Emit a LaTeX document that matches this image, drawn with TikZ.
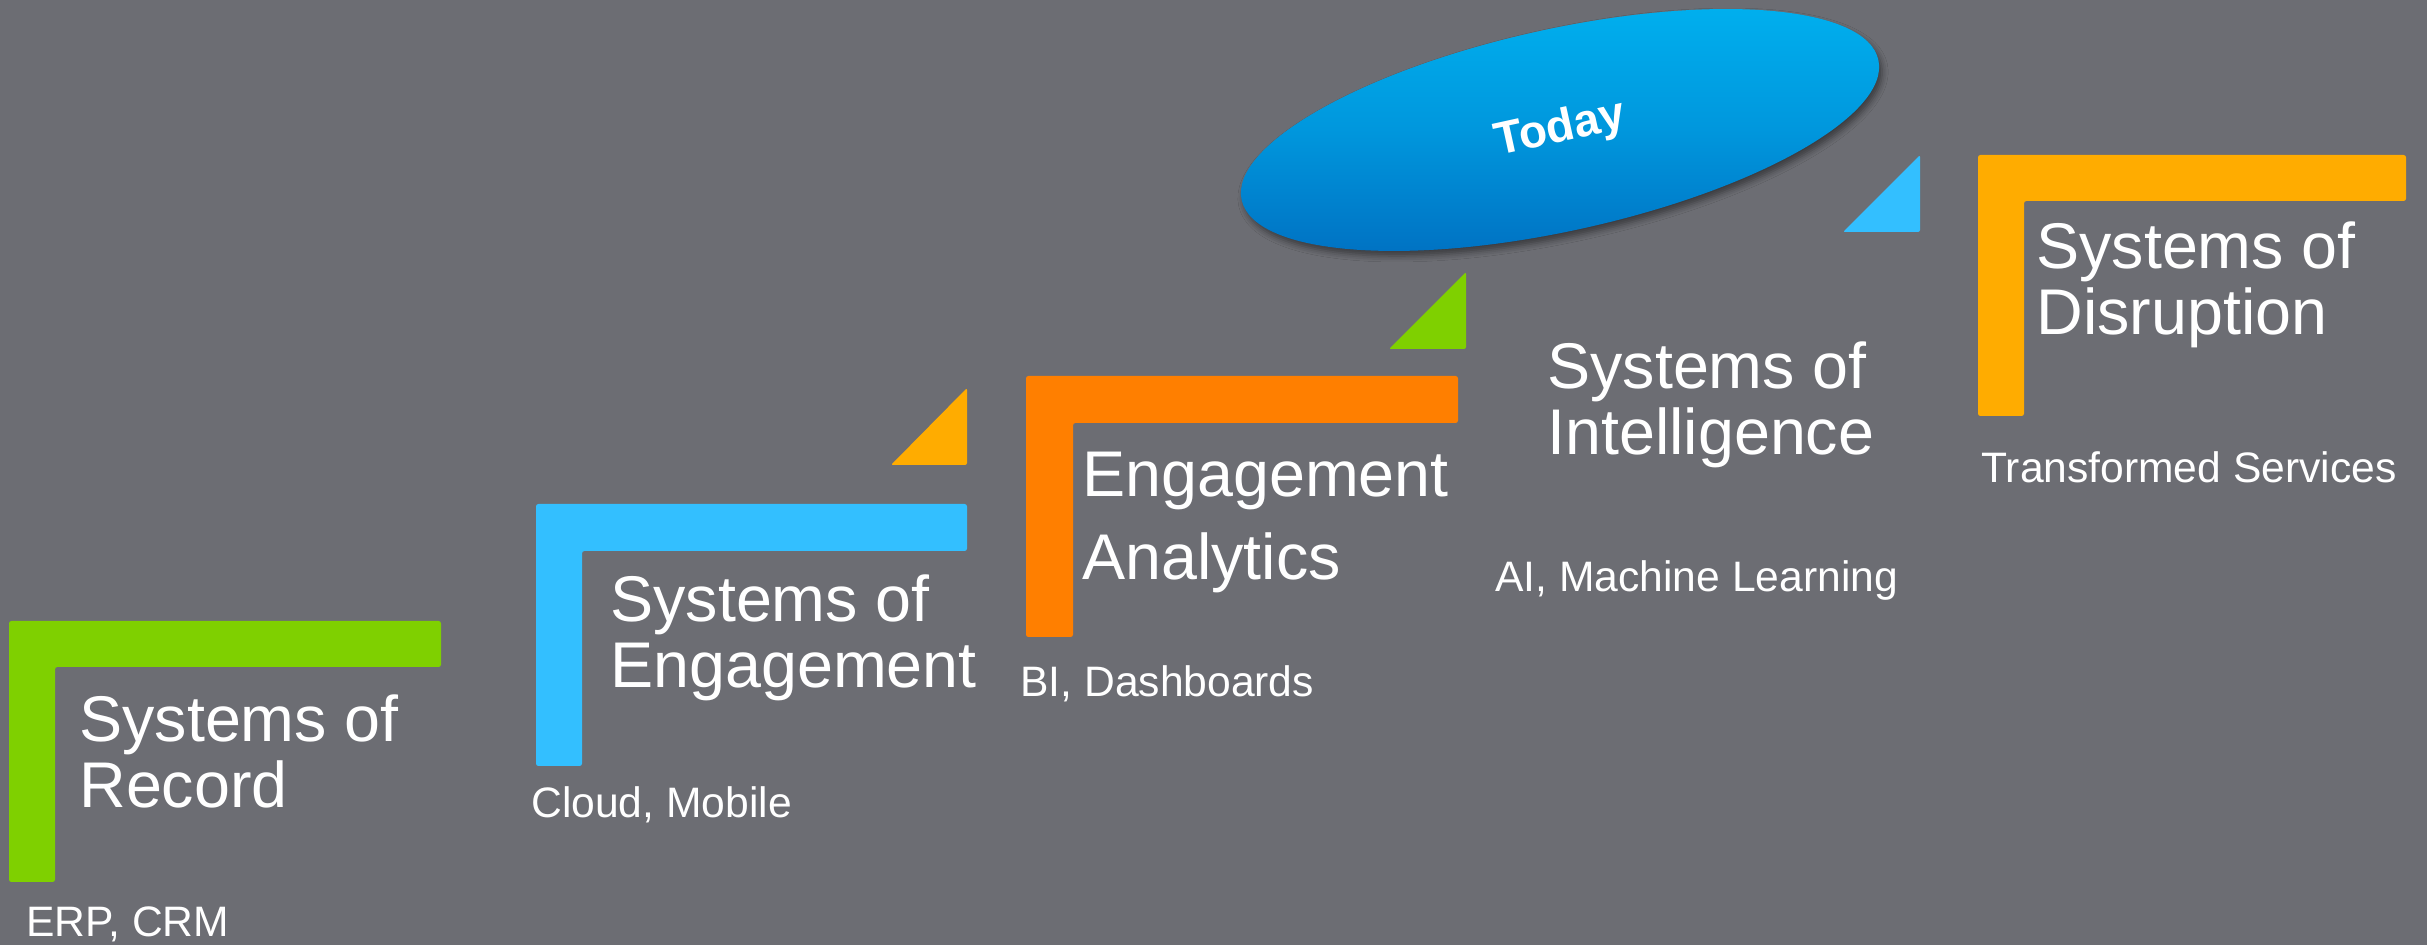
\documentclass[tikz,border=0pt]{standalone}
\usepackage{fontspec}
\setmainfont{Liberation Sans}
\usetikzlibrary{shapes.geometric,shadows.blur}
\definecolor{bgcol}{RGB}{108,109,115}
\definecolor{cgreen}{RGB}{127,208,0}
\definecolor{cblue}{RGB}{51,191,255}
\definecolor{corange}{RGB}{255,127,0}
\definecolor{cgold}{RGB}{255,172,0}
\definecolor{elltop}{RGB}{0,178,240}
\definecolor{ellbot}{RGB}{0,110,192}
\tikzset{
  bigtext/.style={text=white, font=\fontsize{32.3}{33}\selectfont, align=left, inner sep=0pt, anchor=base west},
  subtext/.style={text=white, font=\fontsize{21.3}{22}\selectfont, inner sep=0pt, anchor=base west},
  bracket/.style={rounded corners=1.2pt},
  tri/.style={rounded corners=1pt},
}
\begin{document}
\begin{tikzpicture}[x=0.5pt,y=-0.5pt]
\fill[bgcol] (0,0) rectangle (2427,945);
\useasboundingbox (0,0) rectangle (2427,945);

% brackets
\fill[cgreen,bracket] (9,621) -- (441,621) -- (441,667) -- (55,667) -- (55,882) -- (9,882) -- cycle;
\fill[cblue,bracket] (536,504) -- (967,504) -- (967,551) -- (582,551) -- (582,766) -- (536,766) -- cycle;
\fill[corange,bracket] (1026,376) -- (1458,376) -- (1458,423) -- (1073,423) -- (1073,637) -- (1026,637) -- cycle;
\fill[cgold,bracket] (1978,155) -- (2406,155) -- (2406,201) -- (2024,201) -- (2024,416) -- (1978,416) -- cycle;

% triangles
\fill[cgold,tri] (891,465) -- (967,388) -- (967,465) -- cycle;
\fill[cgreen,tri] (1389,349) -- (1466,272) -- (1466,349) -- cycle;
\fill[cblue,tri] (1843,232) -- (1920,155) -- (1920,232) -- cycle;

% ellipse
\node[ellipse, minimum width=326pt, minimum height=101pt, inner sep=0pt, rotate=12.4,
      top color=elltop, bottom color=ellbot, middle color=elltop!60!ellbot,
      blur shadow={shadow xshift=1.5pt, shadow yshift=-2.5pt, shadow blur radius=3pt, shadow opacity=45},
      text=white, font=\fontsize{23}{24}\bfseries\selectfont] (today) at (1560,130) {Today};

% titles (anchor on the baseline of the last line)
\node[bigtext] (rec) at (79,808) {Systems of\\Record};
\node[bigtext] (eng) at (610,688) {Systems of\\Engagement};
\node[bigtext, font=\fontsize{32.3}{41.5}\selectfont] (ana) at (1082,580) {Engagement\\Analytics};
\node[bigtext] (int) at (1547,455) {Systems of\\Intelligence};
\node[bigtext] (dis) at (2036,335) {Systems of\\Disruption};

% subtitles
\node[subtext] (recsub) at (26,937) {ERP, CRM};
\node[subtext] (engsub) at (531,818) {Cloud, Mobile};
\node[subtext] (anasub) at (1020,697) {BI, Dashboards};
\node[subtext] (intsub) at (1495,592) {AI, Machine Learning};
\node[subtext] (dissub) at (1981,483) {Transformed Services};
\end{tikzpicture}
\end{document}
